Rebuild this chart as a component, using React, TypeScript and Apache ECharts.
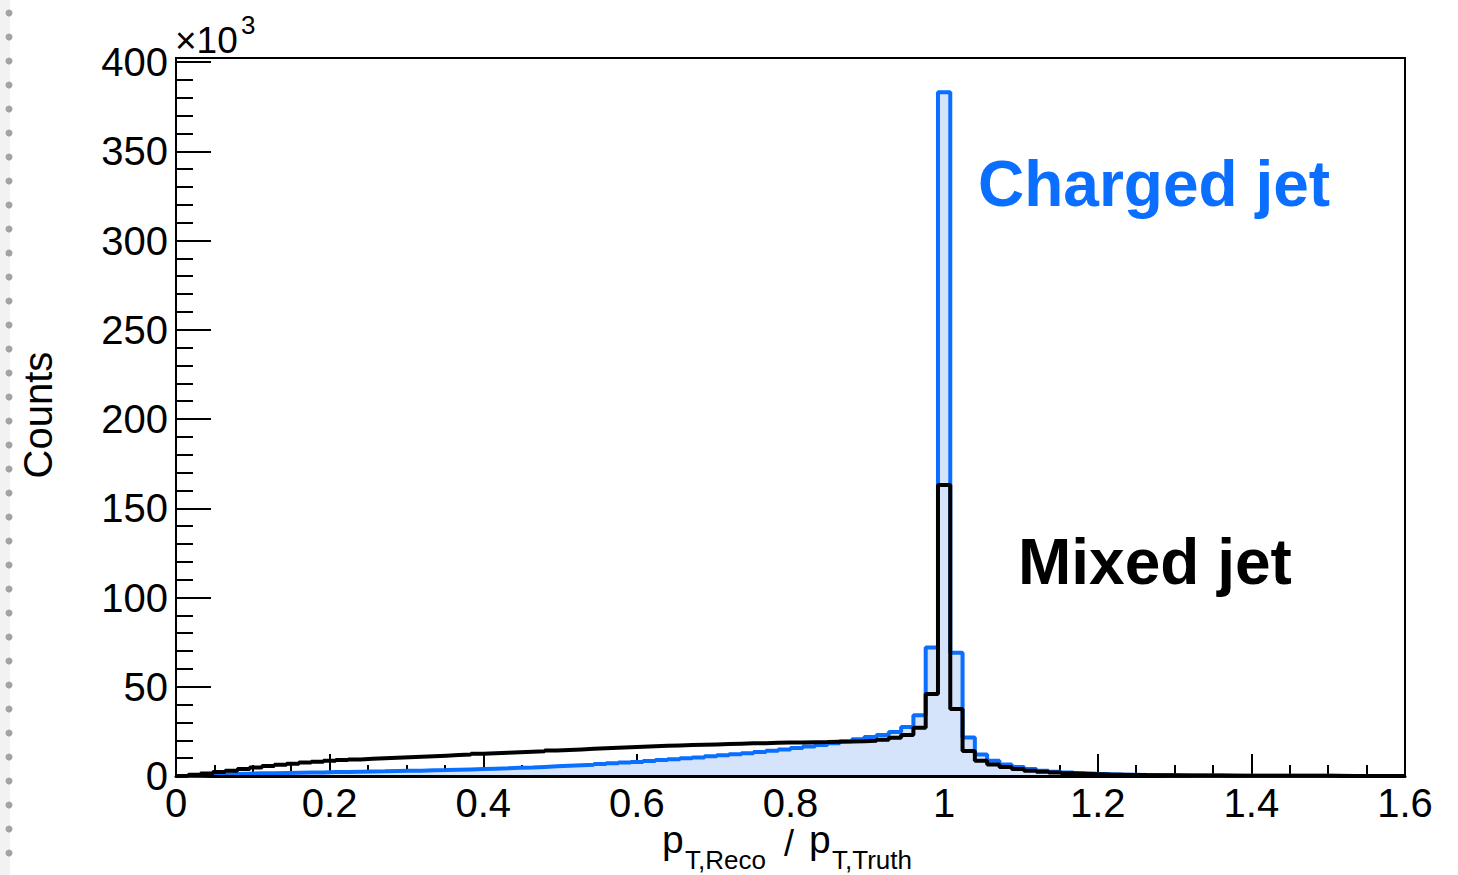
import React, { useEffect, useRef } from "react";
import * as echarts from "echarts";

// Histogram binning: 100 bins of width 0.016 covering 0 .. 1.6
const BIN_WIDTH = 0.016;
const X_MIN = 0;
const X_MAX = 1.6;
const X_INTERVAL = 0.2;
const Y_MIN = 0;
const Y_MAX = 400;
const Y_INTERVAL = 50;

// Counts (x10^3) per bin
const chargedJet = [
  0.1, 0.3, 0.5, 0.8, 1.1, 1.3, 1.5, 1.6, 1.7, 1.8,
  1.9, 2.0, 2.2, 2.3, 2.4, 2.5, 2.6, 2.8, 2.9, 3.0,
  3.2, 3.3, 3.5, 3.7, 3.9, 4.1, 4.3, 4.6, 4.8, 5.1,
  5.4, 5.7, 6.0, 6.3, 6.7, 7.1, 7.5, 7.9, 8.4, 8.9,
  9.4, 9.9, 10.4, 11.0, 11.6, 12.2, 12.8, 13.5, 14.2, 14.9,
  15.7, 16.5, 17.4, 18.4, 19.5, 20.6, 21.8, 23.0, 24.7, 27.4,
  34, 72, 383, 69, 21.5, 12, 8.5, 6.5, 5.0, 3.9,
  3.0, 2.4, 1.9, 1.5, 1.2, 1.0, 0.8, 0.7, 0.6, 0.5,
  0.45, 0.4, 0.35, 0.3, 0.27, 0.24, 0.21, 0.19, 0.17, 0.15,
  0.13, 0.12, 0.1, 0.09, 0.08, 0.07, 0.06, 0.05, 0.05, 0.04,
];

const mixedJet = [
  0.2, 0.7, 1.4, 2.2, 3.0, 3.9, 4.8, 5.6, 6.3, 6.9,
  7.5, 8.0, 8.5, 8.9, 9.3, 9.6, 9.9, 10.2, 10.5, 10.8,
  11.1, 11.4, 11.7, 12.0, 12.4, 12.7, 13.0, 13.3, 13.6, 13.9,
  14.3, 14.6, 14.9, 15.2, 15.5, 15.8, 16.1, 16.4, 16.7, 16.9,
  17.1, 17.3, 17.5, 17.7, 17.9, 18.1, 18.3, 18.4, 18.6, 18.7,
  18.8, 18.9, 19.0, 19.2, 19.3, 19.5, 19.8, 20.3, 21.4, 23.0,
  27.0, 46, 163, 37.5, 14, 8.5, 6.5, 5.0, 3.9, 3.0,
  2.4, 1.9, 1.5, 1.2, 1.0, 0.8, 0.7, 0.6, 0.5, 0.45,
  0.4, 0.35, 0.3, 0.27, 0.24, 0.21, 0.19, 0.17, 0.15, 0.13,
  0.12, 0.1, 0.09, 0.08, 0.07, 0.06, 0.05, 0.05, 0.04, 0.04,
];

const seriesNames = ["Charged jet", "Mixed jet"];
const yScaleLabel = "×10";
const yScaleExp = "3";
const yTitle = "Counts";

const FONT = "'Liberation Sans', Helvetica, Arial, sans-serif";
const BLUE = "#0a6eff";
const FILL = "#d5e3fb";

function toSteps(values: number[]) {
  const pts: number[][] = [[X_MIN, 0]];
  values.forEach((v, i) => pts.push([X_MIN + i * BIN_WIDTH, v]));
  pts.push([X_MAX, values[values.length - 1]]);
  return pts;
}

export default function App() {
  const ref = useRef<HTMLDivElement>(null);

  useEffect(() => {
    if (!ref.current) return;
    const chart = echarts.init(ref.current, null, { renderer: "svg" });

    const dots: any[] = [];
    for (let y = 13; y < 875; y += 24) {
      dots.push({
        type: "circle",
        shape: { cx: 9, cy: y, r: 3.5 },
        style: { fill: "#a3a3a3" },
        silent: true,
      });
    }

    const option: any = {
      animation: false,
      backgroundColor: "#ffffff",
      grid: { left: 176, right: 53, top: 62, bottom: 99, containLabel: false },
      xAxis: {
        type: "value",
        min: X_MIN,
        max: X_MAX,
        interval: X_INTERVAL,
        axisLine: { show: true, onZero: false, lineStyle: { color: "#000", width: 3 } },
        axisTick: { show: true, inside: true, length: 22, lineStyle: { color: "#000", width: 2 } },
        minorTick: { show: true, splitNumber: 4, length: 11, lineStyle: { color: "#000", width: 2 } },
        splitLine: { show: false },
        minorSplitLine: { show: false },
        axisLabel: { fontSize: 40, lineHeight: 32, color: "#000", fontFamily: FONT, margin: 11 },
      },
      yAxis: {
        type: "value",
        min: Y_MIN,
        max: Y_MAX,
        interval: Y_INTERVAL,
        axisLine: { show: true, onZero: false, lineStyle: { color: "#000", width: 2 } },
        axisTick: { show: true, inside: true, length: 35, lineStyle: { color: "#000", width: 2 } },
        minorTick: { show: true, splitNumber: 5, length: 17, lineStyle: { color: "#000", width: 2 } },
        splitLine: { show: false },
        minorSplitLine: { show: false },
        axisLabel: { fontSize: 40, color: "#000", fontFamily: FONT, margin: 8 },
      },
      series: [
        {
          name: seriesNames[0],
          type: "line",
          step: "end",
          data: toSteps(chargedJet),
          symbol: "none",
          lineStyle: { color: BLUE, width: 4 },
          areaStyle: { color: FILL, opacity: 1 },
          z: 2,
        },
        {
          name: seriesNames[1],
          type: "line",
          step: "end",
          data: toSteps(mixedJet),
          symbol: "none",
          lineStyle: { color: "#000", width: 4 },
          z: 3,
        },
      ],
      graphic: [
        { type: "rect", shape: { x: 0, y: 0, width: 10, height: 875 }, style: { fill: "#f2f2f2" }, silent: true },
        ...dots,
        {
          type: "rect",
          shape: { x: 176, y: 58, width: 1229, height: 718 },
          style: { fill: "none", stroke: "#000", lineWidth: 2 },
          silent: true,
          z: 10,
        },
        {
          type: "text",
          x: 175,
          y: 40,
          style: { text: yScaleLabel, font: `37px ${FONT}`, fill: "#000", verticalAlign: "middle", align: "left" },
        },
        {
          type: "text",
          x: 241,
          y: 25,
          style: { text: yScaleExp, font: `26px ${FONT}`, fill: "#000", verticalAlign: "middle", align: "left" },
        },
        {
          type: "text",
          x: 38,
          y: 415,
          rotation: Math.PI / 2,
          style: { text: yTitle, font: `40px ${FONT}`, fill: "#000", verticalAlign: "middle", align: "center" },
        },
        {
          type: "text",
          x: 662,
          y: 839,
          style: { text: "p", font: `39px ${FONT}`, fill: "#000", verticalAlign: "middle", align: "left" },
        },
        {
          type: "text",
          x: 685,
          y: 860,
          style: { text: "T,Reco", font: `26px ${FONT}`, fill: "#000", verticalAlign: "middle", align: "left" },
        },
        {
          type: "text",
          x: 784,
          y: 843,
          style: { text: "/", font: `36px ${FONT}`, fill: "#000", verticalAlign: "middle", align: "left" },
        },
        {
          type: "text",
          x: 809,
          y: 839,
          style: { text: "p", font: `39px ${FONT}`, fill: "#000", verticalAlign: "middle", align: "left" },
        },
        {
          type: "text",
          x: 832,
          y: 860,
          style: { text: "T,Truth", font: `26px ${FONT}`, fill: "#000", verticalAlign: "middle", align: "left" },
        },
        {
          type: "text",
          x: 978,
          y: 184,
          style: { text: seriesNames[0], font: `bold 64px ${FONT}`, fill: BLUE, verticalAlign: "middle", align: "left" },
        },
        {
          type: "text",
          x: 1018,
          y: 562,
          style: { text: seriesNames[1], font: `bold 64px ${FONT}`, fill: "#000", verticalAlign: "middle", align: "left" },
        },
      ],
    };

    chart.setOption(option);
    return () => chart.dispose();
  }, []);

  return (
    <div
      ref={ref}
      style={{ position: "fixed", left: 0, top: 0, width: 1458, height: 875, background: "#fff" }}
    />
  );
}
